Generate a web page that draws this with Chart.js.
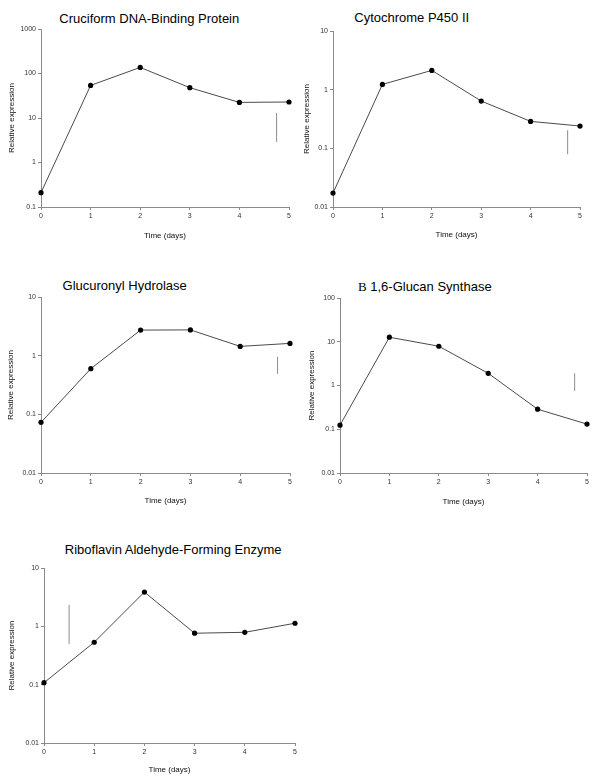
<!DOCTYPE html>
<html>
<head>
<meta charset="utf-8">
<script src="https://cdn.jsdelivr.net/npm/chart.js@4/dist/chart.umd.min.js"></script>
<style>
  html, body { margin:0; padding:0; background:#fff; }
  body { width:600px; height:778px; position:relative; overflow:hidden; font-family:"Liberation Sans", Arial, sans-serif; }
  canvas { position:absolute; }
  .ttl { position:absolute; font-size:13px; line-height:13px; color:#000; white-space:nowrap; transform:translateX(-50%); }
  .beta { font-family:"Liberation Serif", "DejaVu Serif", serif; }
</style>
</head>
<body>
<script>
// ---- data ----
const days = [0, 1, 2, 3, 4, 5];
const xTickLabels = ["0", "1", "2", "3", "4", "5"];

const titles = [
  "Cruciform DNA-Binding Protein",
  "Cytochrome P450 II",
  "Glucuronyl Hydrolase",
  "\u0392 1,6-Glucan Synthase",
  "Riboflavin Aldehyde-Forming Enzyme"
];

const cruciform  = [0.21, 54, 137, 48, 22.4, 22.9];
const cytochrome = [0.0173, 1.23, 2.13, 0.64, 0.288, 0.24];
const glucuronyl = [0.073, 0.60, 2.73, 2.75, 1.44, 1.62];
const glucan     = [0.124, 12.7, 7.9, 1.9, 0.287, 0.131];
const riboflavin = [0.108, 0.533, 3.87, 0.762, 0.79, 1.13];

// vertical reference bars (x position, low, high)
const barX    = [4.75, 4.75, 4.75, 4.75, 0.5];
const barLow  = [2.9, 0.079, 0.49, 0.75, 0.5];
const barHigh = [13, 0.203, 0.96, 1.9, 2.34];

// decade tick values & labels for each panel
const yTicks1 = [0.1, 1, 10, 100, 1000];
const yTickLabels1 = ["0.1", "1", "10", "100", "1000"];
const yTicks2 = [0.01, 0.1, 1, 10];
const yTickLabels2 = ["0.01", "0.1", "1", "10"];
const yTicks4 = [0.01, 0.1, 1, 10, 100];
const yTickLabels4 = ["0.01", "0.1", "1", "10", "100"];

const series = [cruciform, cytochrome, glucuronyl, glucan, riboflavin];
const panelTicks = [yTicks1, yTicks2, yTicks2, yTicks4, yTicks2];
const panelTickLabels = [yTickLabels1, yTickLabels2, yTickLabels2, yTickLabels4, yTickLabels2];

// ---- layout (pixel geometry of each panel) ----
const panels = [
  { ox: 0,   L: 41,  R: 289, T: 29,  B: 207, yTitlePad: 7.2, xTitlePad: 2.5, tx: 149.3, tb: 22 },
  { ox: 300, L: 333, R: 580, T: 31,  B: 207, yTitlePad: 1.9, xTitlePad: 3.6, tx: 411.7, tb: 21.3 },
  { ox: 0,   L: 41,  R: 290, T: 297, B: 473, yTitlePad: 5.7, xTitlePad: 3.6, tx: 124.7, tb: 289.3 },
  { ox: 300, L: 340, R: 587, T: 298, B: 473, yTitlePad: 6.9, xTitlePad: 2.2, tx: 424.8, tb: 290 },
  { ox: 0,   L: 44,  R: 295, T: 568, B: 743, yTitlePad: 6.9, xTitlePad: 4.6, tx: 173.2, tb: 553.3 }
];

const PADT = 8, PADR = 8, XH = 36;
const axisColor = '#8a8a8a';
const tickFont = { family: '"Liberation Sans", Arial, sans-serif', size: 7 };
const titleFont = { family: '"Liberation Sans", Arial, sans-serif', size: 8 };

panels.forEach((p, i) => {
  // title (HTML text)
  const t = document.createElement('div');
  t.className = 'ttl';
  t.style.left = p.tx + 'px';
  t.style.top = (p.tb - 10.5) + 'px';
  if (i === 3) {
    t.innerHTML = '<span class="beta">\u0392</span> 1,6-Glucan Synthase';
  } else {
    t.textContent = titles[i];
  }
  document.body.appendChild(t);

  const c = document.createElement('canvas');
  const top = p.T - PADT;
  const w = p.R + PADR - p.ox;
  const h = p.B + XH - top;
  c.width = w; c.height = h;
  c.style.left = p.ox + 'px';
  c.style.top = top + 'px';
  c.style.width = w + 'px';
  c.style.height = h + 'px';
  document.body.appendChild(c);

  const yt = panelTicks[i];
  const ytl = panelTickLabels[i];

  new Chart(c, {
    type: 'line',
    data: {
      datasets: [
        {
          data: days.map((d, k) => ({ x: d, y: series[i][k] })),
          borderColor: '#4a4a4a',
          borderWidth: 1,
          pointRadius: 2.6,
          pointBackgroundColor: '#000',
          pointBorderColor: '#000',
          pointBorderWidth: 0,
          tension: 0,
          clip: false
        },
        {
          data: [{ x: barX[i], y: barLow[i] }, { x: barX[i], y: barHigh[i] }],
          borderColor: '#8c8c8c',
          borderWidth: 1,
          pointRadius: 0,
          tension: 0
        }
      ]
    },
    options: {
      responsive: false,
      animation: false,
      devicePixelRatio: 1,
      layout: { padding: { top: PADT, right: PADR, left: 0, bottom: 0 } },
      plugins: { legend: { display: false }, tooltip: { enabled: false }, title: { display: false } },
      scales: {
        x: {
          type: 'linear',
          min: 0, max: 5,
          afterFit: (s) => { s.height = XH; },
          afterBuildTicks: (s) => { s.ticks = days.map(v => ({ value: v })); },
          ticks: {
            callback: (v) => xTickLabels[days.indexOf(v)],
            font: tickFont, color: '#333', padding: 2, maxRotation: 0
          },
          grid: { display: true, drawOnChartArea: false, drawTicks: true, tickLength: 3, color: axisColor },
          border: { display: true, color: axisColor, width: 1 },
          title: { display: true, text: 'Time (days)', font: titleFont, color: '#111', padding: { top: 0, bottom: p.xTitlePad } }
        },
        y: {
          type: 'logarithmic',
          min: yt[0], max: yt[yt.length - 1],
          afterFit: (s) => { s.width = p.L - p.ox; },
          afterBuildTicks: (s) => { s.ticks = yt.map(v => ({ value: v })); },
          ticks: {
            callback: (v) => { const k = yt.indexOf(v); return k >= 0 ? ytl[k] : ''; },
            font: tickFont, color: '#333', padding: 2, autoSkip: false
          },
          grid: { display: true, drawOnChartArea: false, drawTicks: true, tickLength: 3, color: axisColor },
          border: { display: true, color: axisColor, width: 1 },
          title: { display: true, text: 'Relative expression', font: titleFont, color: '#111', padding: { top: p.yTitlePad, bottom: 0 } }
        }
      }
    }
  });
});
</script>
</body>
</html>
